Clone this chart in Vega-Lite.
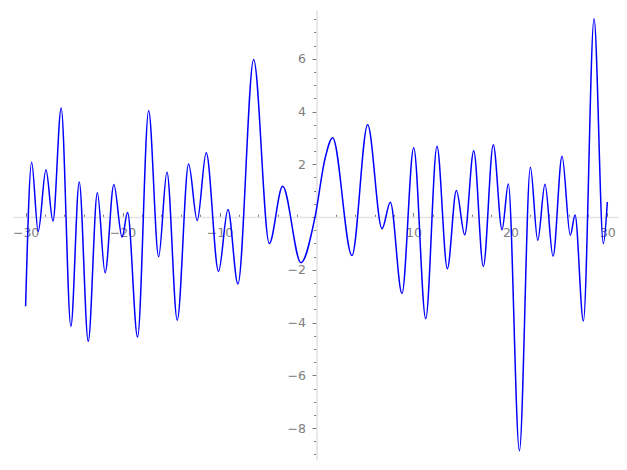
{
  "$schema": "https://vega.github.io/schema/vega-lite/v6.json",
  "width": 605,
  "height": 450,
  "autosize": "none",
  "padding": {"left": 13, "top": 10, "right": 9, "bottom": 10},
  "background": "white",
  "config": {
    "view": {"stroke": null},
    "axis": {
      "labelFont": "DejaVu Sans",
      "labelFontSize": 12.5,
      "labelColor": "#808080",
      "domainColor": "#e3e3e3",
      "domainWidth": 1.6,
      "tickColor": "#7a7a7a",
      "tickWidth": 1,
      "grid": false,
      "title": null
    }
  },
  "data": {
    "values": [
      {"x": -30, "y": -3.38},
      {"x": -29.38, "y": 2.08},
      {"x": -28.7, "y": -0.54},
      {"x": -27.9, "y": 1.79},
      {"x": -27.18, "y": -0.15},
      {"x": -26.33, "y": 4.13},
      {"x": -25.33, "y": -4.14},
      {"x": -24.47, "y": 1.33},
      {"x": -23.54, "y": -4.71},
      {"x": -22.6, "y": 0.92},
      {"x": -21.8, "y": -2.11},
      {"x": -20.9, "y": 1.23},
      {"x": -20.05, "y": -0.76},
      {"x": -19.48, "y": 0.17},
      {"x": -18.45, "y": -4.55},
      {"x": -17.31, "y": 4.03},
      {"x": -16.28, "y": -1.5},
      {"x": -15.42, "y": 1.7},
      {"x": -14.36, "y": -3.91},
      {"x": -13.19, "y": 2.01},
      {"x": -12.3, "y": -0.13},
      {"x": -11.37, "y": 2.44},
      {"x": -10.1, "y": -2.06},
      {"x": -9.13, "y": 0.29},
      {"x": -8.1, "y": -2.54},
      {"x": -6.48, "y": 5.97},
      {"x": -4.87, "y": -1.0},
      {"x": -3.49, "y": 1.17},
      {"x": -1.6, "y": -1.73},
      {"x": -0.15, "y": 0.0},
      {"x": 0.88, "y": 2.21},
      {"x": 1.67, "y": 3.01},
      {"x": 3.66, "y": -1.46},
      {"x": 5.28, "y": 3.5},
      {"x": 6.76, "y": -0.44},
      {"x": 7.62, "y": 0.56},
      {"x": 8.82, "y": -2.9},
      {"x": 10.03, "y": 2.63},
      {"x": 11.27, "y": -3.85},
      {"x": 12.43, "y": 2.68},
      {"x": 13.5, "y": -1.96},
      {"x": 14.43, "y": 1.01},
      {"x": 15.29, "y": -0.67},
      {"x": 16.22, "y": 2.51},
      {"x": 17.21, "y": -1.87},
      {"x": 18.24, "y": 2.74},
      {"x": 19.14, "y": -0.48},
      {"x": 19.79, "y": 1.25},
      {"x": 20.93, "y": -8.86},
      {"x": 22.06, "y": 1.89},
      {"x": 22.82, "y": -0.88},
      {"x": 23.57, "y": 1.24},
      {"x": 24.4, "y": -1.49},
      {"x": 25.33, "y": 2.31},
      {"x": 26.18, "y": -0.69},
      {"x": 26.67, "y": 0.08},
      {"x": 27.53, "y": -3.94},
      {"x": 28.63, "y": 7.52},
      {"x": 29.59, "y": -1.01},
      {"x": 30, "y": 0.57}
    ]
  },
  "encoding": {
    "x": {"field": "x", "type": "quantitative", "scale": {"domain": [-31.3, 31.1], "nice": false, "zero": false}},
    "y": {"field": "y", "type": "quantitative", "scale": {"domain": [-9.21, 7.85], "nice": false, "zero": false}}
  },
  "layer": [
    {
      "mark": {"type": "line", "opacity": 0},
      "encoding": {
        "x": {"field": "x", "type": "quantitative", "axis": {"orient": "bottom", "offset": -242.94, "values": [-30, -28, -26, -24, -22, -20, -18, -16, -14, -12, -10, -8, -6, -4, -2, 0, 2, 4, 6, 8, 10, 12, 14, 16, 18, 20, 22, 24, 26, 28, 30], "tickSize": -2.8, "labels": false, "domain": false}},
        "y": {"field": "y", "type": "quantitative", "axis": {"orient": "left", "offset": -303.47, "values": [-9, -8.5, -8, -7.5, -7, -6.5, -6, -5.5, -5, -4.5, -4, -3.5, -3, -2.5, -2, -1.5, -1, -0.5, 0, 0.5, 1, 1.5, 2, 2.5, 3, 3.5, 4, 4.5, 5, 5.5, 6, 6.5, 7, 7.5], "tickSize": 2.8, "labels": false, "domain": false}}
      }
    },
    {
      "mark": {"type": "line", "opacity": 0},
      "encoding": {
        "x": {"field": "x", "type": "quantitative", "axis": {"orient": "bottom", "offset": -242.94, "values": [-30, -20, -10, 0, 10, 20, 30], "tickSize": -4.5, "labels": false, "domain": false}},
        "y": {"field": "y", "type": "quantitative", "axis": {"orient": "left", "offset": -303.47, "values": [-8, -6, -4, -2, 0, 2, 4, 6], "tickSize": 4.5, "labels": false, "domain": false}}
      }
    },
    {
      "mark": {"type": "line", "interpolate": "monotone", "color": "#0000ff", "strokeWidth": 1.5},
      "encoding": {
        "x": {"field": "x", "type": "quantitative", "axis": {"orient": "bottom", "offset": -242.94, "values": [-30, -20, -10, 0, 10, 20, 30], "ticks": false, "labelPadding": 9, "labelExpr": "datum.value == 0 ? '' : datum.label"}},
        "y": {"field": "y", "type": "quantitative", "axis": {"orient": "left", "offset": -303.47, "values": [-8, -6, -4, -2, 0, 2, 4, 6], "ticks": false, "labelPadding": 11, "labelExpr": "datum.value == 0 ? '' : datum.label"}}
      }
    }
  ],
  "resolve": {"axis": {"x": "independent", "y": "independent"}}
}
